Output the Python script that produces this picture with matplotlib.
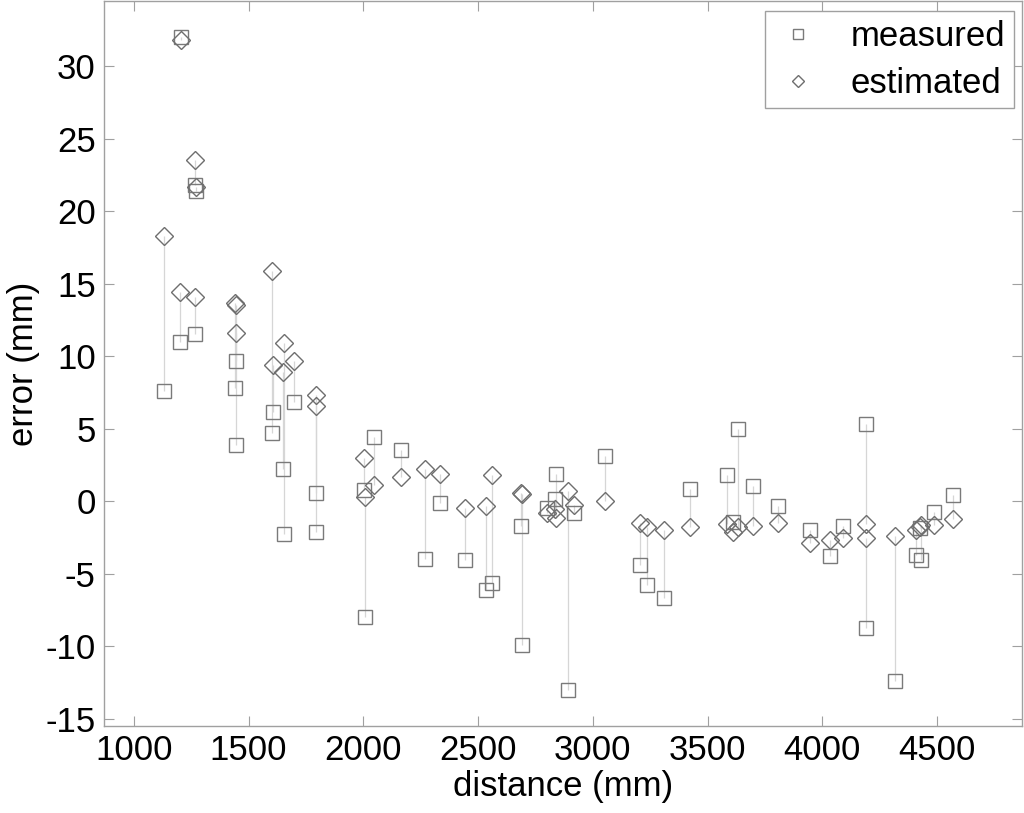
import matplotlib
matplotlib.use('Agg')
import matplotlib.pyplot as plt

plt.rcParams['font.family'] = ['Liberation Sans', 'DejaVu Sans']
plt.rcParams['axes.unicode_minus'] = False

# distance (mm), measured error, estimated error
distance = [1133, 1200, 1207, 1268, 1270, 1268, 1440, 1443, 1447, 1604,
            1606, 1649, 1656, 1698, 1793, 1795, 2004, 2006, 2046, 2162,
            2268, 2336, 2443, 2535, 2562, 2689, 2691, 2800, 2835, 2840,
            2893, 2920, 3051, 3207, 3236, 3308, 3423, 3584, 3612, 3633,
            3700, 3807, 3947, 4033, 4088, 4190, 4192, 4317, 4410, 4425,
            4432, 4486, 4571]
measured = [7.6, 11.0, 32.0, 21.8, 21.4, 11.5, 7.8, 9.7, 3.9, 4.7,
            6.15, 2.2, -2.25, 6.85, 0.6, -2.15, 0.8, -8.0, 4.4, 3.5,
            -3.95, -0.1, -4.05, -6.1, -5.65, -1.7, -9.9, -0.45, 0.15, 1.9,
            -13.0, -0.8, 3.1, -4.4, -5.8, -6.65, 0.85, 1.8, -1.45, 5.0,
            1.08, -0.35, -2.0, -3.75, -1.7, 5.35, -8.75, -12.4, -3.7, -1.85,
            -4.05, -0.75, 0.45]
estimated = [18.3, 14.4, 31.8, 23.5, 21.7, 14.1, 13.7, 13.5, 11.6, 15.9,
             9.4, 8.9, 10.9, 9.65, 7.3, 6.6, 3.0, 0.3, 1.15, 1.7,
             2.2, 1.9, -0.45, -0.35, 1.8, 0.6, 0.5, -0.8, -0.55, -1.15,
             0.7, -0.25, 0.0, -1.5, -1.75, -1.95, -1.8, -1.57, -2.14, -1.8,
             -1.68, -1.5, -2.85, -2.65, -2.55, -1.6, -2.5, -2.4, -2.0, -1.75,
             -1.65, -1.65, -1.2]

fig = plt.figure(figsize=(10.24, 8.13), dpi=100)
ax = fig.add_axes([104 / 1024, 1 - 726 / 813, 918 / 1024, 725 / 813])

ax.vlines(distance, measured, estimated, colors='#d6d6d6', linewidth=0.9, zorder=1)
ax.plot(distance, measured, 's', ms=10, mfc='none', mec='#7a7a7a', mew=1.0,
        label='measured', zorder=2)
ax.plot(distance, estimated, 'D', ms=9, mfc='none', mec='#6e6e6e', mew=1.0,
        label='estimated', zorder=3)

ax.set_xlim(870, 4870)
ax.set_ylim(-15.5, 34.5)
ax.set_xticks([1000, 1500, 2000, 2500, 3000, 3500, 4000, 4500])
ax.set_yticks([-15, -10, -5, 0, 5, 10, 15, 20, 25, 30])
ax.tick_params(direction='in', length=7, width=0.8, color='#a0a0a0',
               top=True, right=True, labelsize=25, pad=6)
for s in ax.spines.values():
    s.set_color('#a0a0a0')
    s.set_linewidth(1.0)

ax.set_xlabel('distance (mm)', fontsize=25, labelpad=2)
ax.set_ylabel('error (mm)', fontsize=25, labelpad=4)

leg = ax.legend(loc='upper right', bbox_to_anchor=(0.991, 0.986), borderaxespad=0,
                fontsize=25, markerscale=0.7, fancybox=False, framealpha=1,
                handletextpad=0.8, borderpad=0.25, labelspacing=0.4, handlelength=1.4)
leg.get_frame().set_edgecolor('#a0a0a0')
leg.get_frame().set_linewidth(1.0)

fig.savefig('out.png', dpi=100)
